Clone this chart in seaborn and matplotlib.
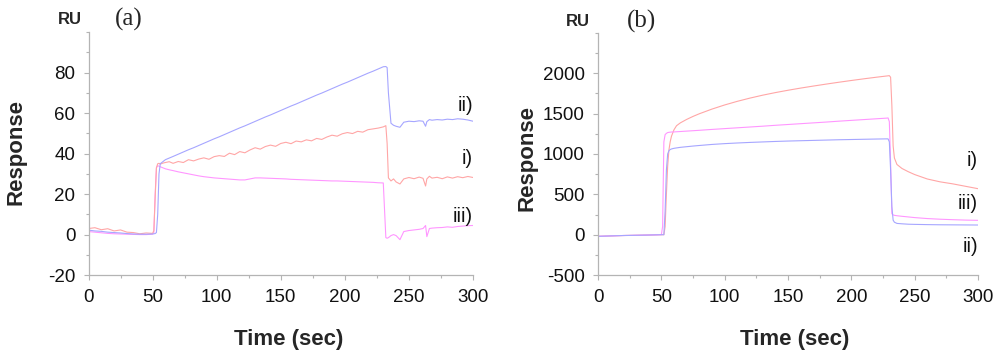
import pandas as pd
import matplotlib.pyplot as plt
import seaborn as sns
import numpy as np

# ---- panel (a) data ----
t_a = [0, 5, 10, 15, 20, 25, 30, 35, 40, 45,
       50, 51, 52, 53, 54, 55, 56, 58, 60, 63,
       66, 70, 74, 78, 82, 86, 90, 94, 98, 102,
       106, 110, 114, 118, 122, 126, 130, 134, 138, 142,
       146, 150, 154, 158, 162, 166, 170, 174, 178, 182,
       186, 190, 194, 198, 202, 206, 210, 214, 218, 222,
       226, 230, 232, 233, 234, 236, 238, 240, 243, 246,
       250, 254, 258, 261, 263, 264, 266, 268, 272, 276,
       280, 284, 288, 292, 296, 300]

a_i = [3.0, 3.4, 2.4, 2.9, 1.8, 2.3, 1.2, 1.0, 0.4, 0.8,
       0.6, 2.0, 18.0, 33.0, 35.0, 35.2, 34.8, 35.3, 35.6, 36.0,
       35.2, 36.1, 35.6, 37.0, 36.4, 37.3, 37.9, 37.2, 38.5, 39.0,
       38.6, 40.2, 39.5, 41.0, 40.4, 41.8, 42.9, 42.2, 43.5, 44.2,
       43.6, 45.0, 45.6, 44.9, 46.2, 45.8, 46.8, 46.3, 47.5, 47.0,
       48.2, 49.1, 48.6, 49.8, 50.4, 49.9, 51.0, 50.6, 51.8, 52.2,
       52.6, 53.2, 53.8, 45.0, 28.0, 26.5, 27.5, 26.0, 25.0, 27.5,
       28.2, 27.6, 28.4, 27.8, 24.0, 27.5, 28.8, 27.9, 28.3, 27.6,
       28.5, 27.9, 28.6, 28.1, 28.7, 28.2]

a_ii = [2.2, 1.8, 1.6, 1.2, 1.0, 0.8, 0.5, 0.3, 0.2, 0.2,
        0.3, 0.4, 0.5, 1.0, 10.0, 30.0, 35.0, 36.0, 37.0, 37.8,
        38.6, 39.7, 40.8, 41.9, 42.9, 44.0, 45.1, 46.2, 47.3, 48.3,
        49.4, 50.5, 51.6, 52.7, 53.7, 54.8, 55.9, 57.0, 58.1, 59.1,
        60.2, 61.3, 62.4, 63.5, 64.5, 65.6, 66.7, 67.8, 68.9, 69.9,
        71.0, 72.1, 73.2, 74.3, 75.3, 76.4, 77.5, 78.6, 79.7, 80.7,
        81.8, 82.9, 83.0, 82.5, 70.0, 55.0, 54.0, 53.5, 53.0, 55.5,
        56.0, 55.8, 56.2, 56.0, 53.5, 55.8, 56.8, 56.5, 56.8, 56.6,
        57.0, 56.8, 57.2, 57.0, 56.6, 56.0]

a_iii = [1.5, 1.2, 0.9, 0.6, 0.4, 0.3, 0.2, 0.1, 0.0, 0.0,
         0.2, 1.0, 20.0, 33.0, 34.0, 33.8, 33.5, 33.0, 32.5, 32.0,
         31.6, 31.0, 30.5, 30.0, 29.5, 29.0, 28.6, 28.3, 28.0, 27.8,
         27.6, 27.4, 27.2, 27.0, 27.0, 27.5, 28.0, 28.0, 27.9, 27.8,
         27.7, 27.6, 27.5, 27.3, 27.2, 27.1, 27.0, 26.9, 26.8, 26.7,
         26.6, 26.5, 26.5, 26.4, 26.3, 26.2, 26.1, 26.0, 25.9, 25.8,
         25.6, 25.5, -1.5, -1.8, -1.5, -0.5, 0.0, -0.5, -2.5, 1.5,
         2.0, 2.3, 2.6, 3.0, 4.5, -1.0, 3.0, 3.2, 3.4, 3.5,
         3.8, 3.6, 4.0, 4.2, 4.4, 4.5]

# ---- panel (b) data ----
t_b = [0, 10, 20, 30, 40, 50, 51, 52, 53, 54,
       55, 56, 57, 58, 60, 62, 65, 70, 75, 80,
       90, 100, 110, 120, 130, 140, 150, 160, 170, 180,
       190, 200, 210, 220, 228, 229, 230, 231, 232, 233,
       234, 236, 240, 245, 250, 260, 270, 280, 290, 300]

b_i = [-20, -15, -10, -7, -4, 0, 0, 0, 100, 500,
       850, 1050, 1150, 1220, 1300, 1350, 1385, 1428, 1465, 1498,
       1556, 1607, 1652, 1692, 1728, 1760, 1789, 1816, 1841, 1865,
       1888, 1910, 1931, 1951, 1966, 1968, 1970, 1950, 1600, 1100,
       950, 870, 820, 780, 745, 690, 655, 630, 600, 570]

b_ii = [-20, -15, -10, -7, -4, 0, 0, 0, 300, 800,
        1000, 1040, 1055, 1062, 1070, 1075, 1082, 1090, 1098, 1105,
        1118, 1128, 1136, 1143, 1149, 1155, 1160, 1164, 1168, 1172,
        1176, 1179, 1182, 1185, 1187, 1187, 1150, 800, 350, 180,
        155, 140, 135, 130, 128, 125, 123, 122, 121, 120]

b_iii = [-20, -15, -10, -7, -4, 0, 100, 1150, 1240, 1255,
         1265, 1268, 1270, 1272, 1273, 1275, 1278, 1283, 1288, 1293,
         1304, 1314, 1324, 1334, 1344, 1355, 1365, 1375, 1385, 1395,
         1406, 1416, 1426, 1436, 1444, 1446, 1400, 900, 260, 245,
         240, 235, 228, 220, 212, 200, 192, 186, 181, 178]

# curve labels (text, y position in data units)
labels_a = [("ii)", 64), ("i)", 37.5), ("iii)", 9)]
labels_b = [("i)", 920), ("iii)", 386), ("ii)", -150)]

col_i = "#ffa6a6"
col_ii = "#a6a6ff"
col_iii = "#ff96ff"

sns.set_style("ticks")
plt.rcParams['font.family'] = ['Liberation Sans', 'DejaVu Sans']
plt.rcParams['axes.unicode_minus'] = False

fig = plt.figure(figsize=(10, 3.61), dpi=100)
ax_a = fig.add_axes([0.0885, 0.238, 0.3845, 0.673])
ax_b = fig.add_axes([0.598, 0.238, 0.380, 0.671])

for t, y, c in [(t_a, a_iii, col_iii), (t_a, a_i, col_i), (t_a, a_ii, col_ii)]:
    sns.lineplot(x=t, y=y, color=c, linewidth=0.8, ax=ax_a, sort=False, errorbar=None)
for t, y, c in [(t_b, b_i, col_i), (t_b, b_iii, col_iii), (t_b, b_ii, col_ii)]:
    sns.lineplot(x=t, y=y, color=c, linewidth=0.8, ax=ax_b, sort=False, errorbar=None)

ax_a.set_ylim(-20, 100)
ax_a.set_yticks([-20, 0, 20, 40, 60, 80])
ax_a.set_yticks(np.arange(-20, 101, 10), minor=True)
ax_b.set_ylim(-500, 2500)
ax_b.set_yticks([-500, 0, 500, 1000, 1500, 2000])
ax_b.set_yticks(np.arange(-500, 2501, 250), minor=True)

for ax in (ax_a, ax_b):
    ax.set_xlim(0, 300)
    ax.set_xticks([0, 50, 100, 150, 200, 250, 300])
    ax.set_xticks(np.arange(0, 301, 25), minor=True)
    sns.despine(ax=ax)
    for s in ("left", "bottom"):
        ax.spines[s].set_color("#b4b4b4")
        ax.spines[s].set_linewidth(0.9)
    ax.tick_params(which="major", length=3.5, width=0.8, color="#b4b4b4",
                   labelsize=13.5, labelcolor="#111111")
    ax.tick_params(which="minor", length=2.5, width=0.8, color="#b4b4b4")
    ax.tick_params(axis="y", pad=6)
    ax.tick_params(axis="x", pad=6.5)
    ax.set_xlabel("")
    ax.set_ylabel("")

for ax, labs in ((ax_a, labels_a), (ax_b, labels_b)):
    for txt, yv in labs:
        ax.text(300, yv, txt, ha="right", va="center", fontsize=14.5, color="#111111")

# axis titles and panel marks
fig.text(0.016, 1 - 152 / 361, "Response", rotation=90, ha="center", va="center",
         fontsize=16, fontweight="bold")
fig.text(0.527, 1 - 158 / 361, "Response", rotation=90, ha="center", va="center",
         fontsize=16, fontweight="bold")
fig.text(0.289, 1 - 340 / 361, "Time (sec)", ha="center", va="center",
         fontsize=16, fontweight="bold")
fig.text(0.795, 1 - 340 / 361, "Time (sec)", ha="center", va="center",
         fontsize=16, fontweight="bold")
fig.text(0.070, 1 - 20 / 361, "RU", ha="center", va="center", fontsize=12, fontweight="bold")
fig.text(0.578, 1 - 21 / 361, "RU", ha="center", va="center", fontsize=12, fontweight="bold")
fig.text(0.129, 1 - 19 / 361, "(a)", ha="center", va="center", fontsize=18,
         family="Liberation Serif")
fig.text(0.642, 1 - 21 / 361, "(b)", ha="center", va="center", fontsize=18,
         family="Liberation Serif")

fig.savefig("out.png", dpi=100)
